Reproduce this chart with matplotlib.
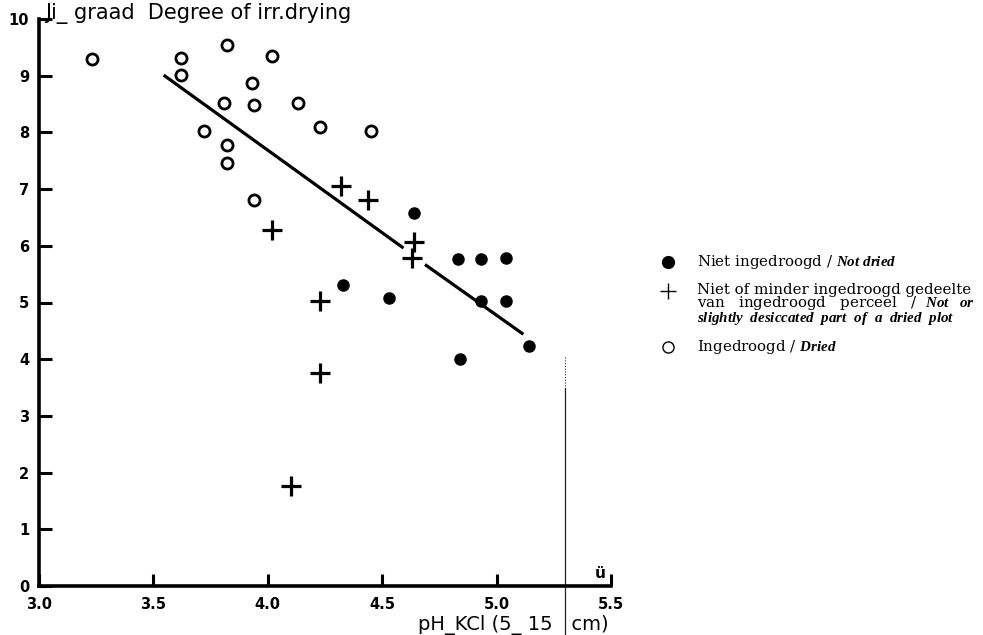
import matplotlib
matplotlib.use("Agg")
import matplotlib.pyplot as plt
from matplotlib.lines import Line2D

plt.rcParams["font.family"] = ["DejaVu Sans"]
plt.rcParams["mathtext.fontset"] = "custom"
plt.rcParams["mathtext.rm"] = "DejaVu Serif"
plt.rcParams["mathtext.it"] = "Liberation Serif:italic:bold"

# pH-KCl (5-15 cm) against degree of irreversible drying
dried_ph = [3.23, 3.62, 3.62, 3.82, 4.02, 3.93, 3.81, 3.94, 4.13, 3.72, 3.82, 3.82, 4.23, 4.45, 3.94]
dried_deg = [9.29, 9.31, 9.01, 9.54, 9.34, 8.87, 8.52, 8.49, 8.52, 8.03, 7.77, 7.46, 8.09, 8.02, 6.80]

partly_ph = [4.32, 4.44, 4.02, 4.64, 4.63, 4.23, 4.23, 4.10]
partly_deg = [7.05, 6.80, 6.28, 6.06, 5.78, 5.02, 3.75, 1.76]

not_dried_ph = [4.64, 4.83, 4.93, 5.04, 4.33, 4.53, 4.93, 5.04, 5.14, 4.84]
not_dried_deg = [6.58, 5.77, 5.77, 5.78, 5.30, 5.08, 5.02, 5.02, 4.24, 4.00]

# regression line, interrupted where it passes the crosses near pH 4.6
fit_ph = [[3.545, 4.593], [4.687, 5.117]]
fit_deg = [[9.01, 5.96], [5.67, 4.44]]

x_ticks = [3.0, 3.5, 4.0, 4.5, 5.0, 5.5]
x_labels = ["3.0", "3.5", "4.0", "4.5", "5.0", "5.5"]
y_ticks = list(range(0, 11))
y_labels = [str(v) for v in y_ticks]

W, H = 983, 635


def fx(px):
    return px / W


def fy(py):
    return 1 - py / H


fig = plt.figure(figsize=(W / 100, H / 100), dpi=100)
ax = fig.add_axes([fx(39), fy(586), 572 / W, 567 / H])
ax.set_xlim(3.0, 5.5)
ax.set_ylim(0, 10)

for side in ("top", "right"):
    ax.spines[side].set_visible(False)
for side in ("left", "bottom"):
    ax.spines[side].set_linewidth(2.6)

ax.set_xticks(x_ticks)
ax.set_xticklabels(x_labels)
ax.set_yticks(y_ticks)
ax.set_yticklabels(y_labels)
ax.tick_params(direction="in", length=9, width=2.2, labelsize=10.5)
ax.tick_params(axis="x", pad=8)
ax.tick_params(axis="y", pad=7)
for lbl in ax.get_xticklabels() + ax.get_yticklabels():
    lbl.set_fontweight("bold")

ax.plot(dried_ph, dried_deg, "o", ms=8, mfc="white", mec="black", mew=2.0, clip_on=False)
ax.plot(partly_ph, partly_deg, "+", ms=15, mec="black", mew=2.3, clip_on=False)
ax.plot(not_dried_ph, not_dried_deg, "o", ms=8, mfc="black", mec="black", clip_on=False)
for xs, ys in zip(fit_ph, fit_deg):
    ax.plot(xs, ys, color="black", lw=2.3, solid_capstyle="butt")

# thin rule crossing the axis at the right
ax.plot([5.30, 5.30], [4.04, 3.50], color="#333333", lw=0.8, ls=(0, (1, 1.5)), clip_on=False)
ax.plot([5.30, 5.30], [3.50, -0.9], color="#222222", lw=0.9, clip_on=False)

fig.text(fx(45), fy(14), "Ji_ graad  Degree of irr.drying", fontsize=15, va="center", ha="left")
fig.text(fx(609), fy(625), "pH_KCl (5_ 15   cm)", fontsize=14, va="center", ha="right")
fig.text(fx(600), fy(574), "ü", fontsize=11, fontweight="bold", va="center", ha="center")

# legend drawn by hand: serif text with italic English translation
leg_x, txt_x = 668, 697
handles = [
    (262, dict(marker="o", ms=8.5, mfc="black", mec="black")),
    (291, dict(marker="+", ms=12, mec="black", mew=1.0)),
    (347, dict(marker="o", ms=8, mfc="white", mec="black", mew=1.0)),
]
for py, style in handles:
    fig.add_artist(Line2D([fx(leg_x)], [fy(py)], linestyle="none", **style))

serif = dict(family="DejaVu Serif", fontsize=10.8, ha="left")
fig.text(fx(txt_x), fy(262), r"Niet ingedroogd / $\mathit{Not\ dried}$", va="center", **serif)
fig.text(fx(txt_x), fy(283),
         "Niet of minder ingedroogd gedeelte\n"
         r"van   ingedroogd   perceel   /  $\mathit{Not\ \ \ or}$" "\n"
         r"$\mathit{slightly\ \ desiccated\ \ part\ \ of\ \ a\ \ dried\ \ plot}$",
         va="top", linespacing=0.8, **serif)
fig.text(fx(txt_x), fy(347), r"Ingedroogd / $\mathit{Dried}$", va="center", **serif)

fig.savefig("out.png", dpi=100)
